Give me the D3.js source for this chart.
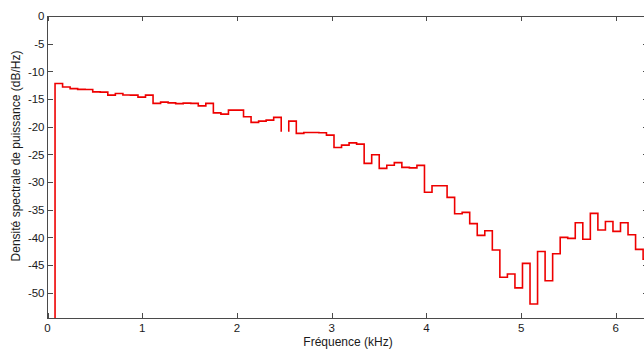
<!DOCTYPE html>
<html>
<head>
<meta charset="utf-8">
<script src="https://cdn.jsdelivr.net/npm/d3@7"></script>
<style>
  html, body { margin: 0; padding: 0; background: #fff; }
  svg { display: block; }
  text { font-family: "Liberation Sans", Arial, sans-serif; fill: #1a1a1a; }
</style>
</head>
<body>
<script>
// Bin start frequencies (kHz)
const freqs = [0, 0.0796, 0.1592, 0.2388, 0.3184, 0.398, 0.4776, 0.5572, 0.6368, 0.7164,
  0.796, 0.8756, 0.9552, 1.0348, 1.1144, 1.194, 1.2736, 1.3532, 1.4328, 1.5124,
  1.592, 1.6716, 1.7512, 1.8308, 1.9104, 1.99, 2.0696, 2.1492, 2.2288, 2.3084,
  2.388, 2.4676, 2.5472, 2.6268, 2.7064, 2.786, 2.8656, 2.9452, 3.0248, 3.1044,
  3.184, 3.2636, 3.3432, 3.4228, 3.5024, 3.582, 3.6616, 3.7412, 3.8208, 3.9004,
  3.98, 4.0596, 4.1392, 4.2188, 4.2984, 4.378, 4.4576, 4.5372, 4.6168, 4.6964,
  4.776, 4.8556, 4.9352, 5.0148, 5.0944, 5.174, 5.2536, 5.3332, 5.4128, 5.4924,
  5.572, 5.6516, 5.7312, 5.8108, 5.8904, 5.97, 6.0496, 6.1292, 6.2088, 6.2884,
  6.368];
const freqEnd = 6.4476;
// PSD values (dB/Hz), one per bin
const psd = [-62, -12.2, -12.82, -13.12, -13.25, -13.27, -13.7, -13.75, -14.3, -13.99,
  -14.26, -14.3, -14.66, -14.3, -15.79, -15.56, -15.7, -15.83, -15.74, -15.79,
  -16.23, -15.79, -17.49, -17.73, -17.0, -17.0, -18.21, -19.22, -18.99, -18.81,
  -18.32, -20.92, -18.99, -21.21, -21.03, -21.03, -21.1, -21.52, -23.74, -23.32,
  -22.91, -23.14, -26.62, -25.07, -27.53, -26.97, -26.48, -27.35, -27.44, -26.99,
  -31.84, -30.67, -30.67, -32.76, -35.72, -35.47, -37.51, -39.62, -38.79, -42.27,
  -47.2, -46.61, -49.1, -44.68, -52.02, -42.55, -47.83, -42.94, -39.98, -40.16,
  -37.35, -40.32, -35.65, -38.66, -37.13, -38.9, -37.35, -39.51, -42.15, -43.94,
  -44.1];
// bins whose horizontal segment is missing in the plot
const hiddenBins = [31];

const xTicks = [0, 1, 2, 3, 4, 5, 6];
const yTicks = [-50, -45, -40, -35, -30, -25, -20, -15, -10, -5, 0];
const xLabel = "Fréquence (kHz)";
const yLabel = "Densité spectrale de puissance (dB/Hz)";

const W = 644, H = 349;
const L = 47.5, R = 648, T = 16, B = 318;

const x = d3.scaleLinear().domain([0, 6.34]).range([L, R]);
const y = d3.scaleLinear().domain([-54.55, 0]).range([B, T]);

const svg = d3.select("body").append("svg").attr("width", W).attr("height", H);

svg.append("defs").append("clipPath").attr("id", "clip")
  .append("rect").attr("x", L).attr("y", T).attr("width", R - L).attr("height", B - T);

// stairs points
const pts = [];
psd.forEach((v, i) => {
  const f0 = freqs[i];
  const f1 = i + 1 < freqs.length ? freqs[i + 1] : freqEnd;
  pts.push({ f: f0, v: v, ok: true });
  if (hiddenBins.includes(i)) pts.push({ ok: false });
  pts.push({ f: f1, v: v, ok: true });
});
// fix: after a hidden gap, the first point starts a new run
const line = d3.line().defined(d => d.ok).x(d => x(d.f)).y(d => y(d.v));

svg.append("path")
  .attr("clip-path", "url(#clip)")
  .attr("d", line(pts))
  .attr("fill", "none")
  .attr("stroke", "#ee0000")
  .attr("stroke-width", 1.6)
  .attr("stroke-linejoin", "miter");

// axes box
const axisColor = "#4a4a4a";
const g = svg.append("g").attr("shape-rendering", "crispEdges");
g.append("rect").attr("x", L).attr("y", T + 0.5).attr("width", R - L).attr("height", B - T)
  .attr("fill", "none").attr("stroke", axisColor).attr("stroke-width", 1);

const tl = 5;
// x ticks (bottom & top, inward)
xTicks.forEach(t => {
  const xx = Math.round(x(t)) + 0.5;
  g.append("line").attr("x1", xx).attr("x2", xx).attr("y1", B).attr("y2", B - tl).attr("stroke", axisColor);
  g.append("line").attr("x1", xx).attr("x2", xx).attr("y1", T).attr("y2", T + tl).attr("stroke", axisColor);
  svg.append("text").attr("x", x(t)).attr("y", 332).attr("text-anchor", "middle")
    .attr("font-size", "11.5px").text(t);
});
// y ticks (left & right, inward)
yTicks.forEach(t => {
  const yy = Math.round(y(t)) + 0.5;
  g.append("line").attr("x1", L).attr("x2", L + tl).attr("y1", yy).attr("y2", yy).attr("stroke", axisColor);
  g.append("line").attr("x1", R - tl).attr("x2", R).attr("y1", yy).attr("y2", yy).attr("stroke", axisColor);
  svg.append("text").attr("x", 44.5).attr("y", y(t)).attr("dy", "0.36em").attr("text-anchor", "end")
    .attr("font-size", "11.5px").text(t);
});

svg.append("text").attr("x", 348).attr("y", 345.5).attr("text-anchor", "middle")
  .attr("font-size", "12px").text(xLabel);

svg.append("text").attr("transform", "translate(19.5,156) rotate(-90)")
  .attr("text-anchor", "middle").attr("font-size", "12px").text(yLabel);
</script>
</body>
</html>
